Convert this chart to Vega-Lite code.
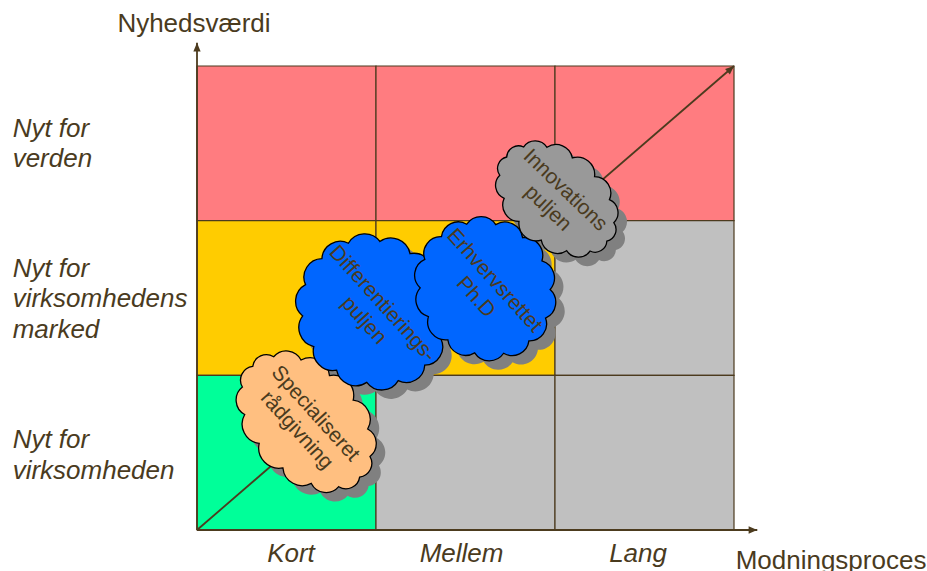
{
  "$schema": "https://vega.github.io/schema/vega-lite/v6.json",
  "width": 537,
  "height": 464,
  "autosize": {"type": "none"},
  "padding": {"left": 197, "top": 66, "right": 193, "bottom": 41},
  "background": "white",
  "config": {"view": {"stroke": null}, "font": "Liberation Sans"},
  "resolve": {"scale": {"fill": "independent", "angle": "independent", "size": "independent", "shape": "independent"}},
  "datasets": {
    "felter": [
      {"x": 0, "x2": 1, "y": 2, "y2": 3, "felt": "verden"},
      {"x": 1, "x2": 2, "y": 2, "y2": 3, "felt": "verden"},
      {"x": 2, "x2": 3, "y": 2, "y2": 3, "felt": "verden"},
      {"x": 0, "x2": 1, "y": 1, "y2": 2, "felt": "marked"},
      {"x": 1, "x2": 2, "y": 1, "y2": 2, "felt": "marked"},
      {"x": 2, "x2": 3, "y": 1, "y2": 2, "felt": "udenfor"},
      {"x": 0, "x2": 1, "y": 0, "y2": 1, "felt": "virksomheden"},
      {"x": 1, "x2": 2, "y": 0, "y2": 1, "felt": "udenfor"},
      {"x": 2, "x2": 3, "y": 0, "y2": 1, "felt": "udenfor"}
    ],
    "pile": [
      {"pil": "diagonal", "x": 0, "y": 0, "x2": 3, "y2": 3},
      {"pil": "lodret", "x": 0, "y": 0, "x2": 0, "y2": 3.15},
      {"pil": "vandret", "x": 0, "y": 0, "x2": 3.13, "y2": 0}
    ],
    "skyer": [
      {"sky": "Specialiseret\nrådgivning", "x": 0.61, "y": 0.7},
      {"sky": "Differentierings-\npuljen", "x": 0.985, "y": 1.41},
      {"sky": "Erhvervsrettet\nPh.D", "x": 1.61, "y": 1.56},
      {"sky": "Innovations\npuljen", "x": 2.01, "y": 2.14}
    ],
    "raekker": [
      {"tekst": "Nyt for\nverden", "x": -1.03, "y": 2.541},
      {"tekst": "Nyt for\nvirksomhedens\nmarked", "x": -1.03, "y": 1.636},
      {"tekst": "Nyt for\nvirksomheden", "x": -1.03, "y": 0.53}
    ],
    "kolonner": [
      {"tekst": "Kort", "x": 0.525, "y": -0.207},
      {"tekst": "Mellem", "x": 1.478, "y": -0.207},
      {"tekst": "Lang", "x": 2.464, "y": -0.207}
    ],
    "titler": [
      {"tekst": "Nyhedsværdi", "x": -0.017, "y": 3.222},
      {"tekst": "Modningsproces", "x": 3.542, "y": -0.25}
    ]
  },
  "encoding": {
    "x": {"field": "x", "type": "quantitative", "scale": {"domain": [0, 3], "nice": false, "zero": false}, "axis": null},
    "y": {"field": "y", "type": "quantitative", "scale": {"domain": [0, 3], "nice": false, "zero": false}, "axis": null}
  },
  "layer": [
    {
      "data": {"name": "felter"},
      "mark": {"type": "rect", "stroke": "#4C3B1E", "strokeWidth": 1.2},
      "encoding": {
        "x2": {"field": "x2"},
        "y2": {"field": "y2"},
        "fill": {"field": "felt", "type": "nominal", "legend": null,
          "scale": {"domain": ["verden", "marked", "virksomheden", "udenfor"], "range": ["#FF7C80", "#FFCC00", "#00FF99", "#C0C0C0"]}}
      }
    },
    {
      "data": {"name": "pile"},
      "mark": {"type": "rule", "stroke": "#4C3B1E", "strokeWidth": 1.8},
      "encoding": {"x2": {"field": "x2"}, "y2": {"field": "y2"}}
    },
    {
      "data": {"name": "pile"},
      "mark": {"type": "point", "filled": true, "fill": "#4C3B1E", "opacity": 1, "strokeWidth": 0, "size": 300, "shape": "M0,0 L0.42,1 L-0.42,1 Z"},
      "encoding": {
        "x": {"field": "x2", "type": "quantitative"},
        "y": {"field": "y2", "type": "quantitative"},
        "angle": {"field": "pil", "type": "nominal", "legend": null,
          "scale": {"type": "ordinal", "domain": ["diagonal", "lodret", "vandret"], "range": [49, 0, 90]}}
      }
    },
    {
      "data": {"name": "skyer"},
      "mark": {"type": "point", "filled": true, "fill": "#808080", "opacity": 1, "strokeWidth": 0, "xOffset": 9, "yOffset": 9},
      "encoding": {
        "shape": {"field": "sky", "type": "nominal", "legend": null,
          "scale": {"domain": ["Specialiseret\nrådgivning", "Differentierings-\npuljen", "Erhvervsrettet\nPh.D", "Innovations\npuljen"],
            "range": [
              "M0.86,0 A0.154,0.154 0 0 1 0.775,0.243 A0.185,0.185 0 0 1 0.536,0.438 A0.217,0.217 0 0 1 0.191,0.546 A0.229,0.229 0 0 1 -0.191,0.546 A0.217,0.217 0 0 1 -0.536,0.438 A0.185,0.185 0 0 1 -0.775,0.243 A0.154,0.154 0 0 1 -0.86,0 A0.154,0.154 0 0 1 -0.775,-0.243 A0.185,0.185 0 0 1 -0.536,-0.438 A0.217,0.217 0 0 1 -0.191,-0.546 A0.229,0.229 0 0 1 0.191,-0.546 A0.217,0.217 0 0 1 0.536,-0.438 A0.185,0.185 0 0 1 0.775,-0.243 A0.154,0.154 0 0 1 0.86,0 Z",
              "M0.82,0 A0.204,0.204 0 0 1 0.739,0.33 A0.209,0.209 0 0 1 0.511,0.594 A0.216,0.216 0 0 1 0.182,0.741 A0.218,0.218 0 0 1 -0.182,0.741 A0.216,0.216 0 0 1 -0.511,0.594 A0.209,0.209 0 0 1 -0.739,0.33 A0.204,0.204 0 0 1 -0.82,0 A0.204,0.204 0 0 1 -0.739,-0.33 A0.209,0.209 0 0 1 -0.511,-0.594 A0.216,0.216 0 0 1 -0.182,-0.741 A0.218,0.218 0 0 1 0.182,-0.741 A0.216,0.216 0 0 1 0.511,-0.594 A0.209,0.209 0 0 1 0.739,-0.33 A0.204,0.204 0 0 1 0.82,0 Z",
              "M0.82,0 A0.204,0.204 0 0 1 0.739,0.33 A0.209,0.209 0 0 1 0.511,0.594 A0.216,0.216 0 0 1 0.182,0.741 A0.218,0.218 0 0 1 -0.182,0.741 A0.216,0.216 0 0 1 -0.511,0.594 A0.209,0.209 0 0 1 -0.739,0.33 A0.204,0.204 0 0 1 -0.82,0 A0.204,0.204 0 0 1 -0.739,-0.33 A0.209,0.209 0 0 1 -0.511,-0.594 A0.216,0.216 0 0 1 -0.182,-0.741 A0.218,0.218 0 0 1 0.182,-0.741 A0.216,0.216 0 0 1 0.511,-0.594 A0.209,0.209 0 0 1 0.739,-0.33 A0.204,0.204 0 0 1 0.82,0 Z",
              "M0.86,0 A0.154,0.154 0 0 1 0.775,0.243 A0.185,0.185 0 0 1 0.536,0.438 A0.217,0.217 0 0 1 0.191,0.546 A0.229,0.229 0 0 1 -0.191,0.546 A0.217,0.217 0 0 1 -0.536,0.438 A0.185,0.185 0 0 1 -0.775,0.243 A0.154,0.154 0 0 1 -0.86,0 A0.154,0.154 0 0 1 -0.775,-0.243 A0.185,0.185 0 0 1 -0.536,-0.438 A0.217,0.217 0 0 1 -0.191,-0.546 A0.229,0.229 0 0 1 0.191,-0.546 A0.217,0.217 0 0 1 0.536,-0.438 A0.185,0.185 0 0 1 0.775,-0.243 A0.154,0.154 0 0 1 0.86,0 Z"
            ]}},
        "size": {"field": "sky", "type": "nominal", "legend": null,
          "scale": {"type": "ordinal", "domain": ["Specialiseret\nrådgivning", "Differentierings-\npuljen", "Erhvervsrettet\nPh.D", "Innovations\npuljen"], "range": [32000, 32600, 27500, 23100]}},
        "angle": {"field": "sky", "type": "nominal", "legend": null,
          "scale": {"type": "ordinal", "domain": ["Specialiseret\nrådgivning", "Differentierings-\npuljen", "Erhvervsrettet\nPh.D", "Innovations\npuljen"], "range": [46, 46, 50, 40]}}
      }
    },
    {
      "data": {"name": "skyer"},
      "mark": {"type": "point", "filled": true, "opacity": 1, "stroke": "#000000", "strokeWidth": 1.3},
      "encoding": {
        "shape": {"field": "sky", "type": "nominal", "legend": null,
          "scale": {"domain": ["Specialiseret\nrådgivning", "Differentierings-\npuljen", "Erhvervsrettet\nPh.D", "Innovations\npuljen"],
            "range": [
              "M0.86,0 A0.154,0.154 0 0 1 0.775,0.243 A0.185,0.185 0 0 1 0.536,0.438 A0.217,0.217 0 0 1 0.191,0.546 A0.229,0.229 0 0 1 -0.191,0.546 A0.217,0.217 0 0 1 -0.536,0.438 A0.185,0.185 0 0 1 -0.775,0.243 A0.154,0.154 0 0 1 -0.86,0 A0.154,0.154 0 0 1 -0.775,-0.243 A0.185,0.185 0 0 1 -0.536,-0.438 A0.217,0.217 0 0 1 -0.191,-0.546 A0.229,0.229 0 0 1 0.191,-0.546 A0.217,0.217 0 0 1 0.536,-0.438 A0.185,0.185 0 0 1 0.775,-0.243 A0.154,0.154 0 0 1 0.86,0 Z",
              "M0.82,0 A0.204,0.204 0 0 1 0.739,0.33 A0.209,0.209 0 0 1 0.511,0.594 A0.216,0.216 0 0 1 0.182,0.741 A0.218,0.218 0 0 1 -0.182,0.741 A0.216,0.216 0 0 1 -0.511,0.594 A0.209,0.209 0 0 1 -0.739,0.33 A0.204,0.204 0 0 1 -0.82,0 A0.204,0.204 0 0 1 -0.739,-0.33 A0.209,0.209 0 0 1 -0.511,-0.594 A0.216,0.216 0 0 1 -0.182,-0.741 A0.218,0.218 0 0 1 0.182,-0.741 A0.216,0.216 0 0 1 0.511,-0.594 A0.209,0.209 0 0 1 0.739,-0.33 A0.204,0.204 0 0 1 0.82,0 Z",
              "M0.82,0 A0.204,0.204 0 0 1 0.739,0.33 A0.209,0.209 0 0 1 0.511,0.594 A0.216,0.216 0 0 1 0.182,0.741 A0.218,0.218 0 0 1 -0.182,0.741 A0.216,0.216 0 0 1 -0.511,0.594 A0.209,0.209 0 0 1 -0.739,0.33 A0.204,0.204 0 0 1 -0.82,0 A0.204,0.204 0 0 1 -0.739,-0.33 A0.209,0.209 0 0 1 -0.511,-0.594 A0.216,0.216 0 0 1 -0.182,-0.741 A0.218,0.218 0 0 1 0.182,-0.741 A0.216,0.216 0 0 1 0.511,-0.594 A0.209,0.209 0 0 1 0.739,-0.33 A0.204,0.204 0 0 1 0.82,0 Z",
              "M0.86,0 A0.154,0.154 0 0 1 0.775,0.243 A0.185,0.185 0 0 1 0.536,0.438 A0.217,0.217 0 0 1 0.191,0.546 A0.229,0.229 0 0 1 -0.191,0.546 A0.217,0.217 0 0 1 -0.536,0.438 A0.185,0.185 0 0 1 -0.775,0.243 A0.154,0.154 0 0 1 -0.86,0 A0.154,0.154 0 0 1 -0.775,-0.243 A0.185,0.185 0 0 1 -0.536,-0.438 A0.217,0.217 0 0 1 -0.191,-0.546 A0.229,0.229 0 0 1 0.191,-0.546 A0.217,0.217 0 0 1 0.536,-0.438 A0.185,0.185 0 0 1 0.775,-0.243 A0.154,0.154 0 0 1 0.86,0 Z"
            ]}},
        "size": {"field": "sky", "type": "nominal", "legend": null,
          "scale": {"type": "ordinal", "domain": ["Specialiseret\nrådgivning", "Differentierings-\npuljen", "Erhvervsrettet\nPh.D", "Innovations\npuljen"], "range": [32000, 32600, 27500, 23100]}},
        "angle": {"field": "sky", "type": "nominal", "legend": null,
          "scale": {"type": "ordinal", "domain": ["Specialiseret\nrådgivning", "Differentierings-\npuljen", "Erhvervsrettet\nPh.D", "Innovations\npuljen"], "range": [46, 46, 50, 40]}},
        "fill": {"field": "sky", "type": "nominal", "legend": null,
          "scale": {"domain": ["Specialiseret\nrådgivning", "Differentierings-\npuljen", "Erhvervsrettet\nPh.D", "Innovations\npuljen"], "range": ["#FFBF80", "#0066FF", "#0066FF", "#999999"]}}
      }
    },
    {
      "data": {"name": "skyer"},
      "mark": {"type": "text", "font": "Liberation Sans", "fontSize": 21, "align": "center", "baseline": "middle", "dy": -12, "lineBreak": "\n", "lineHeight": 25, "color": "#4A3B1E"},
      "encoding": {
        "text": {"field": "sky"},
        "angle": {"field": "sky", "type": "nominal", "legend": null,
          "scale": {"type": "ordinal", "domain": ["Specialiseret\nrådgivning", "Differentierings-\npuljen", "Erhvervsrettet\nPh.D", "Innovations\npuljen"], "range": [48, 48, 48, 44]}}
      }
    },
    {
      "data": {"name": "raekker"},
      "mark": {"type": "text", "font": "Liberation Sans", "fontSize": 26, "fontStyle": "italic", "align": "left", "baseline": "alphabetic", "lineBreak": "\n", "lineHeight": 30.5, "color": "#4A3B1E"},
      "encoding": {"text": {"field": "tekst"}}
    },
    {
      "data": {"name": "kolonner"},
      "mark": {"type": "text", "font": "Liberation Sans", "fontSize": 26, "fontStyle": "italic", "align": "center", "baseline": "alphabetic", "color": "#4A3B1E"},
      "encoding": {"text": {"field": "tekst"}}
    },
    {
      "data": {"name": "titler"},
      "mark": {"type": "text", "font": "Liberation Sans", "fontSize": 26, "align": "center", "baseline": "alphabetic", "color": "#4A3B1E"},
      "encoding": {"text": {"field": "tekst"}}
    }
  ]
}
